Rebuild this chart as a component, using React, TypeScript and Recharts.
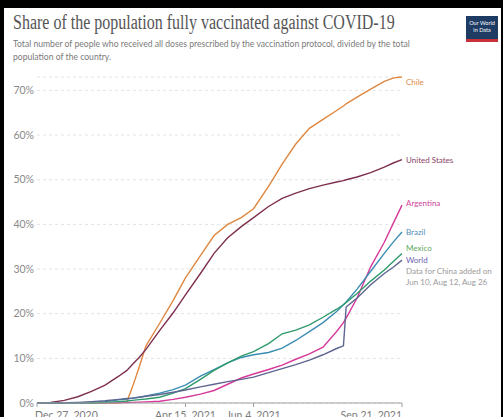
import React from 'react';
import { LineChart, Line, XAxis, YAxis, CartesianGrid } from 'recharts';

// Day offsets from Dec 27, 2020
const days = [0, 10, 20, 30, 40, 50, 60, 66, 70, 75, 80, 90, 100, 109, 120, 130, 140, 150, 159, 170, 180, 190, 200, 210, 220, 225, 227, 235, 245, 255, 262, 268];

const chile = [0, 0, 0, 0, 0, 0, 0, 0.3, 3.5, 8, 12.8, 17.8, 23, 28, 33, 37.5, 40, 41.5, 43.5, 48.5, 53.5, 58, 61.5, 63.5, 65.5, 66.5, 67, 68.5, 70.3, 72, 72.8, 73];
const unitedStates = [0, 0.1, 0.6, 1.4, 2.6, 4, 6, 7.3, 8.6, 10.2, 12, 16.2, 20.2, 24.2, 29, 33.5, 37, 39.5, 41.5, 44, 45.8, 47, 48, 48.8, 49.5, 49.8, 50, 50.6, 51.6, 52.8, 53.8, 54.5];
const argentina = [0, 0, 0, 0, 0, 0.05, 0.1, 0.1, 0.15, 0.2, 0.25, 0.4, 0.8, 1.3, 2, 2.8, 4.2, 5.6, 6.5, 7.5, 8.5, 9.8, 11, 12.5, 16, 18, 19, 23.5, 30.5, 36, 40.5, 44.3];
const brazil = [0, 0, 0, 0, 0.05, 0.3, 0.7, 0.9, 1.1, 1.3, 1.6, 2.2, 3, 4, 6, 7.5, 9, 10.2, 10.8, 11.3, 12.3, 14, 16, 18, 20.5, 22, 22.6, 25.5, 29.5, 33.5, 36.2, 38.3];
const mexico = [0, 0, 0, 0, 0, 0.1, 0.3, 0.45, 0.6, 0.75, 0.9, 1.3, 2.2, 3.2, 5.3, 7.3, 9, 10.5, 11.5, 13.3, 15.5, 16.3, 17.5, 19.2, 21, 22, 22.5, 24.5, 27.3, 29.8, 31.8, 33.5];
const world = [0, 0.02, 0.05, 0.15, 0.3, 0.5, 0.8, 1, 1.1, 1.3, 1.5, 1.9, 2.4, 2.9, 3.6, 4.2, 4.8, 5.3, 5.8, 6.8, 7.7, 8.6, 9.6, 10.8, 12.2, 12.8, 21.5, 23.5, 26.5, 29, 30.5, 32];

const xTicks = [0, 109, 159, 268];
const xTickLabels = ['Dec 27, 2020', 'Apr 15, 2021', 'Jun 4, 2021', 'Sep 21, 2021'];
const yTicks = [0, 10, 20, 30, 40, 50, 60, 70];

const series = [
  { key: 'chile', name: 'Chile', values: chile, color: '#e0873f', labelColor: '#dd8a4c', dy: 5 },
  { key: 'us', name: 'United States', values: unitedStates, color: '#7e2f4f', labelColor: '#8a3f66', dy: 0 },
  { key: 'argentina', name: 'Argentina', values: argentina, color: '#d6399a', labelColor: '#d0449c', dy: -2 },
  { key: 'brazil', name: 'Brazil', values: brazil, color: '#3b8db3', labelColor: '#4f8db5', dy: 0 },
  { key: 'mexico', name: 'Mexico', values: mexico, color: '#2f9a6c', labelColor: '#5ea85a', dy: -5 },
  { key: 'world', name: 'World', values: world, color: '#5d6590', labelColor: '#6a62b0', dy: 0 },
];

const data = days.map((d, i) => {
  const row: any = { day: d };
  series.forEach((s) => { row[s.key] = s.values[i]; });
  return row;
});

const XTick = (props: any) => {
  const { x, y, payload, index } = props;
  const anchor = index === 0 ? 'start' : index === xTicks.length - 1 ? 'end' : 'middle';
  const dx = index === 0 ? -2 : 0;
  const i = xTicks.indexOf(payload.value);
  return (
    <text x={x + dx} y={y + 10} textAnchor={anchor} fill="#7a7a7a" fontSize={10.5} fontFamily="Lato">
      {xTickLabels[i]}
    </text>
  );
};

const makeLabel = (s: any) => (props: any) => {
  const { x, y, index } = props;
  if (index !== days.length - 1) return null;
  return (
    <g>
      <text x={x + 4} y={y + s.dy + 3} fill={s.labelColor} fontSize={8} fontFamily="Lato">
        {s.name}
      </text>
      {s.key === 'world' && (
        <text x={x + 4} y={y + 14} fill="#9a9a9a" fontSize={8} fontFamily="Lato">
          <tspan x={x + 4} dy={0}>Data for China added on</tspan>
          <tspan x={x + 4} dy={11}>Jun 10, Aug 12, Aug 26</tspan>
        </text>
      )}
    </g>
  );
};

export default function App() {
  return (
    <div style={{ position: 'fixed', left: 0, top: 0, width: 503, height: 417, background: '#000', overflow: 'hidden' }}>
      <div style={{ position: 'absolute', left: 4, top: 8, width: 497, height: 420, background: '#fff' }} />
      <div style={{ position: 'absolute', left: 13, top: 11, whiteSpace: 'nowrap', fontFamily: '"Liberation Serif", serif', fontSize: 20, color: '#555', transform: 'scaleX(0.8)', transformOrigin: 'left top' }}>
        Share of the population fully vaccinated against COVID-19
      </div>
      <div style={{ position: 'absolute', left: 13, top: 37, whiteSpace: 'nowrap', fontFamily: 'Lato', fontSize: 10, lineHeight: '13px', color: '#7a7a7a', transform: 'scaleX(0.86)', transformOrigin: 'left top' }}>
        Total number of people who received all doses prescribed by the vaccination protocol, divided by the total<br />population of the country.
      </div>
      <div style={{ position: 'absolute', left: 466, top: 16, width: 32, height: 26, background: '#1d3b63', boxSizing: 'border-box', borderBottom: '3px solid #c8313a', color: '#fff', fontFamily: 'Lato', fontSize: 5.5, lineHeight: '7px', textAlign: 'center', paddingTop: 4 }}>
        Our World<br />in Data
      </div>
      <div style={{ position: 'absolute', left: 0, top: 0 }}>
        <LineChart width={503} height={440} data={data} margin={{ top: 77, right: 101, bottom: 7, left: 0 }}>
          <CartesianGrid horizontal vertical={false} stroke="#e3e3e3" strokeDasharray="3 3" />
          <XAxis
            dataKey="day"
            type="number"
            domain={[0, 268]}
            ticks={xTicks}
            height={30}
            stroke="#a0a0a0"
            tickSize={4}
            tick={<XTick />}
            interval={0}
          />
          <YAxis
            type="number"
            domain={[0, 73]}
            ticks={yTicks}
            width={37}
            axisLine={false}
            tickLine={false}
            tickSize={0}
            tickMargin={3}
            tickFormatter={(v: number) => `${v}%`}
            tick={{ fill: '#8a8a8a', fontSize: 10.5, fontFamily: 'Lato' }}
          />
          {series.map((s) => (
            <Line
              key={s.key}
              dataKey={s.key}
              stroke={s.color}
              strokeWidth={1.4}
              dot={false}
              isAnimationActive={false}
              label={makeLabel(s)}
            />
          ))}
        </LineChart>
      </div>
    </div>
  );
}
